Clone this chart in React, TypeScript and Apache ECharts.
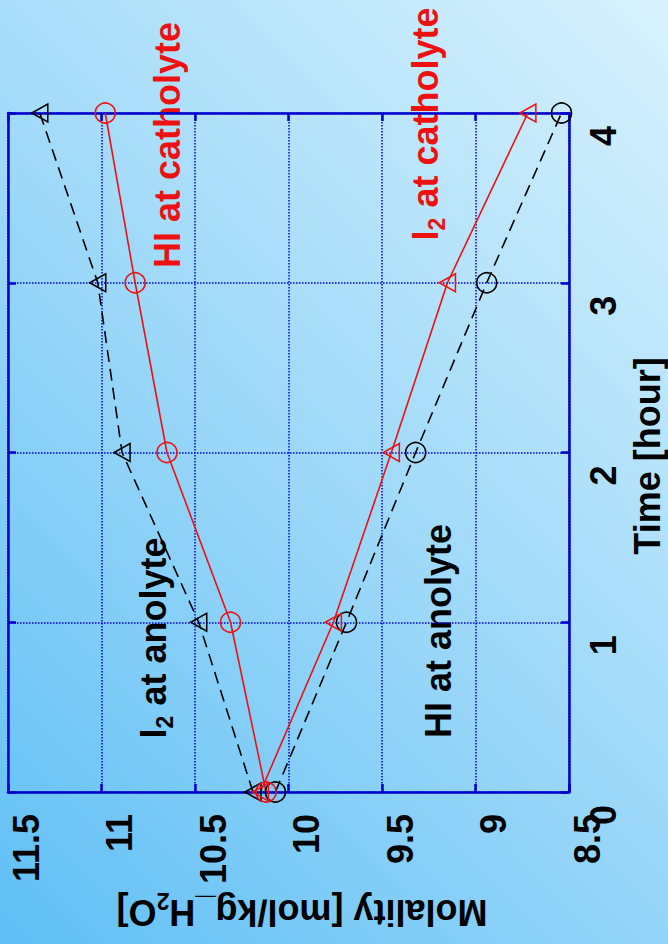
import React, { useEffect, useRef } from "react";
import * as echarts from "echarts";

const timeHours = [0, 1, 2, 3, 4];
const hiCatholyte = [10.12, 10.31, 10.65, 10.82, 10.98];
const i2Catholyte = [10.15, 9.76, 9.45, 9.15, 8.72];
const i2Anolyte = [10.19, 10.48, 10.89, 11.02, 11.33];
const hiAnolyte = [10.07, 9.69, 9.32, 8.94, 8.54];
const molalityTicks = ["8.5", "9", "9.5", "10", "10.5", "11", "11.5"];
const timeTicks = ["0", "1", "2", "3", "4"];

const FONT = "'Liberation Sans', Arial, Helvetica, sans-serif";
const BLUE = "#0000cc";
const RED = "#ee1111";

export default function App() {
  const ref = useRef<HTMLDivElement>(null);
  useEffect(() => {
    if (!ref.current) return;
    const chart = echarts.init(ref.current, undefined, { renderer: "svg" });
    const pair = (vals: number[]) => vals.map((v, i) => [v, timeHours[i]]);
    const axisLine = { show: true, onZero: false, lineStyle: { color: BLUE, width: 2.5 } };
    const axisTick = { show: true, inside: true, length: 8, lineStyle: { color: BLUE, width: 2.5 } };
    const split = { show: true, lineStyle: { color: "#0000dd", type: "dotted", width: 1.5 } };
    const labelStyle = { color: "#000", fontSize: 36, fontWeight: "bold", fontFamily: FONT };
    const sub = { fontSize: 23, fontWeight: "bold", fontFamily: FONT, verticalAlign: "bottom", lineHeight: 46 };

    const mk = (name: string, vals: number[], color: string, symbol: string, dashed: boolean) => ({
      name,
      type: "line",
      data: pair(vals),
      xAxisIndex: 0,
      yAxisIndex: 0,
      clip: false,
      symbol,
      symbolSize: symbol === "triangle" ? [18, 16] : 20,
      symbolRotate: symbol === "triangle" ? 90 : 0,
      showAllSymbol: true,
      lineStyle: { color, width: 1.6, type: dashed ? [12, 7] : "solid" },
      itemStyle: { color: "transparent", borderColor: color, borderWidth: 1.6 },
      emphasis: { disabled: true },
    });

    const txt = (text: string, x: number, y: number, rot: number, color: string) => ({
      type: "text",
      x,
      y,
      rotation: rot,
      silent: true,
      style: {
        text,
        fill: color,
        fontSize: 36,
        fontWeight: "bold",
        fontFamily: FONT,
        align: "center",
        verticalAlign: "middle",
        lineHeight: 46,
        rich: {
          s: { ...sub, fill: color },
        },
      },
    });

    chart.setOption({
      animation: false,
      backgroundColor: "transparent",
      grid: { left: 8, right: 99, top: 113, bottom: 152, containLabel: false },
      xAxis: [
        {
          type: "value",
          position: "bottom",
          min: 8.5,
          max: 11.5,
          interval: 0.5,
          inverse: true,
          axisLine,
          axisTick,
          splitLine: split,
          axisLabel: {
            ...labelStyle,
            rotate: 90,
            margin: 22,
            align: "right",
            verticalAlign: "top",
            showMinLabel: true,
            showMaxLabel: true,
            formatter: (v: number) => molalityTicks[Math.round((v - 8.5) / 0.5)],
          },
        },
        {
          type: "value",
          position: "top",
          min: 8.5,
          max: 11.5,
          interval: 0.5,
          inverse: true,
          axisLine,
          axisTick,
          splitLine: { show: false },
          axisLabel: { show: false },
        },
      ],
      yAxis: [
        {
          type: "value",
          position: "right",
          min: 0,
          max: 4,
          interval: 1,
          axisLine,
          axisTick,
          splitLine: split,
          axisLabel: {
            ...labelStyle,
            rotate: 90,
            margin: 16,
            align: "center",
            verticalAlign: "top",
            padding: [0, 46, 0, 0],
            showMinLabel: true,
            showMaxLabel: true,
            formatter: (v: number) => timeTicks[Math.round(v)],
          },
        },
        {
          type: "value",
          position: "left",
          min: 0,
          max: 4,
          interval: 1,
          axisLine,
          axisTick,
          splitLine: { show: false },
          axisLabel: { show: false },
        },
      ],
      series: [
        mk("I2 at anolyte", i2Anolyte, "#000", "triangle", true),
        mk("HI at anolyte", hiAnolyte, "#000", "circle", true),
        mk("HI at catholyte", hiCatholyte, RED, "circle", false),
        mk("I2 at catholyte", i2Catholyte, RED, "triangle", false),
      ],
      graphic: [
        txt("Molality [mol/kg_H{s|2}O]", 302, 912, Math.PI, "#000"),
        txt("Time [hour]", 647, 456, Math.PI / 2, "#000"),
        txt("HI at catholyte", 167, 145, Math.PI / 2, RED),
        txt("I{s|2} at catholyte", 425, 124, Math.PI / 2, RED),
        txt("I{s|2} at anolyte", 153, 638, Math.PI / 2, "#000"),
        txt("HI at anolyte", 438, 631, Math.PI / 2, "#000"),
      ],
    });
    return () => chart.dispose();
  }, []);

  return (
    <div
      style={{
        position: "absolute",
        left: 0,
        top: 0,
        width: 668,
        height: 944,
        background: "linear-gradient(45deg, #5fbff5 0%, #9fd9f9 50%, #d8f2fd 100%)",
      }}
    >
      <div ref={ref} style={{ width: 668, height: 944 }} />
    </div>
  );
}
